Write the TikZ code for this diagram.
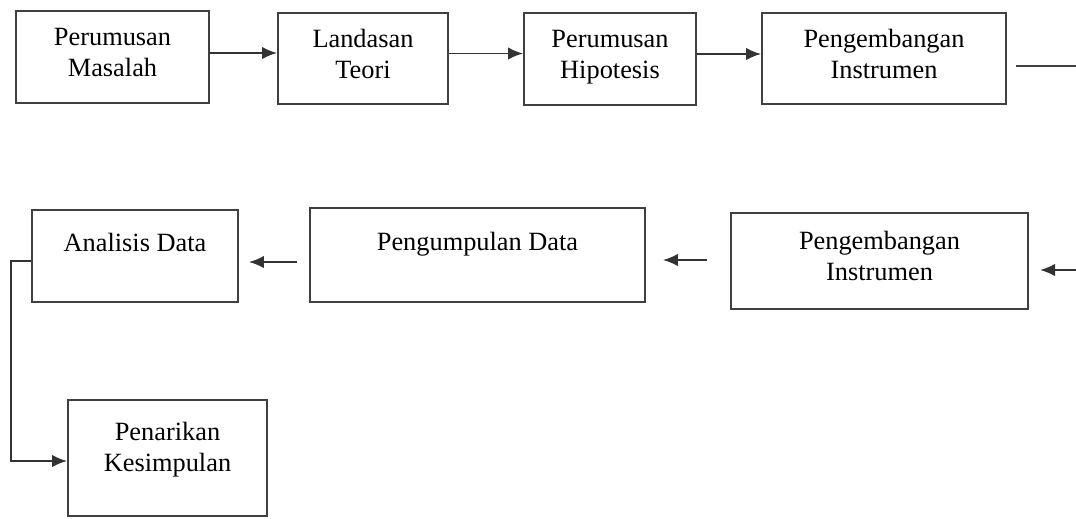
\documentclass[tikz,border=0pt]{standalone}
\usepackage{fontspec}
\setmainfont{Liberation Serif}
\usetikzlibrary{positioning}
\usetikzlibrary{arrows.meta}

\begin{document}
\begin{tikzpicture}[x=0.02cm,y=-0.02cm,
  box/.style={draw=black!75,line width=1.1pt,align=center,inner sep=0pt,
    font=\fontsize{15}{18}\selectfont},
  lift/.style={text depth=#1},
  arr/.style={draw=black!80,line width=1.1pt,-{Latex[length=0.3cm,width=0.25cm]}},
  ln/.style={draw=black!75,line width=1.1pt}]
 \useasboundingbox (0,0) rectangle (1076,518);
 \node[box,lift=0.18cm,minimum width=3.86cm,minimum height=1.84cm] (masalah) at (112.5,57) {Perumusan\\Masalah};
 \node[box,lift=0.18cm,minimum width=3.4cm,minimum height=1.82cm] (teori) at (363,58.5) {Landasan\\Teori};
 \node[box,lift=0.18cm,minimum width=3.44cm,minimum height=1.84cm] (hipotesis) at (610,59) {Perumusan\\Hipotesis};
 \node[box,lift=0.18cm,minimum width=4.88cm,minimum height=1.82cm] (instrumenA) at (884,58.5) {Pengembangan\\Instrumen};
 \node[box,lift=0.2cm,minimum width=5.94cm,minimum height=1.92cm] (instrumenB) at (879.5,261) {Pengembangan\\Instrumen};
 \node[box,lift=0.56cm,minimum width=6.7cm,minimum height=1.88cm] (pengumpulan) at (477.5,255) {Pengumpulan Data};
 \node[box,lift=0.56cm,minimum width=4.12cm,minimum height=1.84cm] (analisis) at (135,256) {Analisis Data};
 \node[box,lift=0.45cm,minimum width=3.98cm,minimum height=2.32cm] (penarikan) at (167.5,458) {Penarikan\\Kesimpulan};
 \coordinate (kananA) at (1016,66);
 \coordinate (tepiA) at (1076,66);
 \coordinate (tepiB) at (1076,270);
 \coordinate (kananB) at (1040,270);
 \draw[arr] ([yshift=0.08cm]masalah.east) -- ([yshift=0.08cm]masalah.east -| teori.west);
 \draw[arr] ([yshift=0.1cm]teori.east) -- ([yshift=0.1cm]teori.east -| hipotesis.west);
 \draw[arr] ([yshift=0.1cm]hipotesis.east) -- ([yshift=0.1cm]hipotesis.east -| instrumenA.west);
 \draw[ln] (kananA) -- (tepiA);
 \draw[arr] (tepiB) -- (kananB);
 \draw[arr,shorten <=0.46cm,shorten >=0.34cm] ([yshift=0.02cm]instrumenB.west) -- ([yshift=0.02cm]instrumenB.west -| pengumpulan.east);
 \draw[arr,shorten <=0.24cm,shorten >=0.2cm] ([yshift=-0.14cm]pengumpulan.west) -- ([yshift=-0.14cm]pengumpulan.west -| analisis.east);
 \draw[arr] ([yshift=-0.1cm]analisis.west) -- ++(-20,0) |- ([yshift=-0.06cm]penarikan.west);
\end{tikzpicture}
\end{document}
